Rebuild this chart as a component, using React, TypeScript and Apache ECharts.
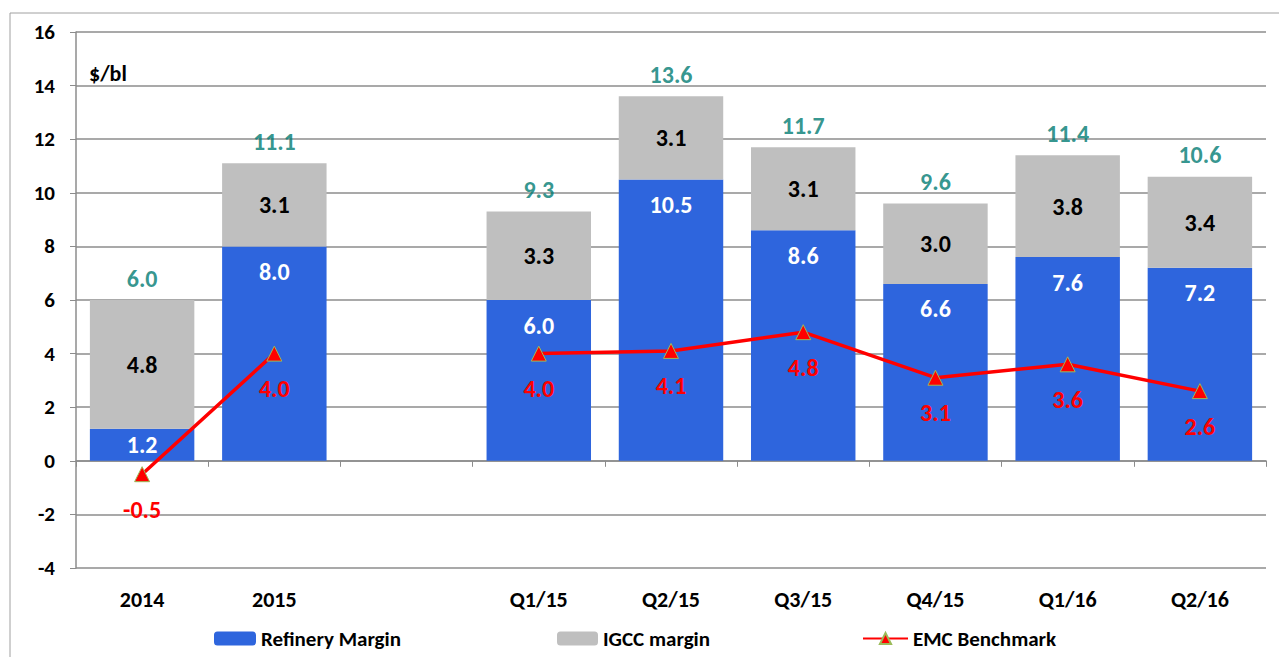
import React, { useEffect, useRef } from "react";
import * as echarts from "echarts";

const categories = ["2014", "2015", "", "Q1/15", "Q2/15", "Q3/15", "Q4/15", "Q1/16", "Q2/16"];
const refineryMargin = [1.2, 8.0, null, 6.0, 10.5, 8.6, 6.6, 7.6, 7.2];
const igccMargin = [4.8, 3.1, null, 3.3, 3.1, 3.1, 3.0, 3.8, 3.4];
const totals = [6.0, 11.1, null, 9.3, 13.6, 11.7, 9.6, 11.4, 10.6];
const emcBenchmark = [-0.5, 4.0, null, 4.0, 4.1, 4.8, 3.1, 3.6, 2.6];

const FONT = "Carlito, Lato, 'Open Sans', sans-serif";
const BLUE = "#2E65DD";
const GREY = "#BFBFBF";
const TEAL = "#007A72";
const RED = "#FF0000";

export default function App() {
  const ref = useRef<HTMLDivElement>(null);
  useEffect(() => {
    if (!ref.current) return;
    const chart = echarts.init(ref.current, null, { renderer: "svg" });
    const fmt = (p: any) => (p.value == null ? "" : Number(p.value).toFixed(1));
    const legendText = { fontFamily: FONT, fontSize: 21, fontWeight: "bold", color: "#000" };
    chart.setOption({
      animation: false,
      backgroundColor: "#ffffff",
      textStyle: { fontFamily: FONT },
      graphic: [
        {
          type: "rect",
          shape: { x: 10, y: 13, width: 1300, height: 700 },
          style: { fill: "none", stroke: "#A0A0A0", lineWidth: 1 },
          silent: true,
        },
        {
          type: "text",
          x: 89,
          y: 73,
          style: {
            text: "$/bl",
            font: `bold 22px ${FONT}`,
            fill: "#000",
            verticalAlign: "middle",
          },
        },
      ],
      grid: { left: 76, right: 13, top: 32, bottom: 89, containLabel: false },
      legend: [
        { left: 209, top: 623, itemWidth: 42, itemHeight: 14, itemGap: 0, data: ["Refinery Margin"], textStyle: legendText },
        { left: 552, top: 623, itemWidth: 41, itemHeight: 14, itemGap: 0, data: ["IGCC margin"], textStyle: legendText },
        { left: 857, top: 623, itemWidth: 45, itemHeight: 14, itemGap: 0, data: ["EMC Benchmark"], textStyle: legendText },
      ],
      xAxis: [
        {
          type: "category",
          data: categories,
          position: "bottom",
          axisLine: { show: false, onZero: false },
          axisTick: { show: false },
          axisLabel: {
            margin: 20,
            color: "#000",
            fontFamily: FONT,
            fontSize: 22,
            fontWeight: "bold",
          },
        },
        {
          type: "category",
          data: categories,
          position: "bottom",
          axisLine: { show: true, onZero: true, lineStyle: { color: "#8C8C8C", width: 1.5 } },
          axisTick: { show: true, length: 6, lineStyle: { color: "#8C8C8C" } },
          axisLabel: { show: false },
        },
      ],
      yAxis: {
        type: "value",
        min: -4,
        max: 16,
        interval: 2,
        axisLine: { show: true, lineStyle: { color: "#8C8C8C", width: 1.5 } },
        axisTick: { show: true, length: 6, lineStyle: { color: "#8C8C8C" } },
        splitLine: { show: true, lineStyle: { color: "#8C8C8C", width: 1.5 } },
        axisLabel: {
          margin: 21,
          color: "#000",
          fontFamily: FONT,
          fontSize: 21,
          fontWeight: "bold",
        },
      },
      series: [
        {
          name: "Refinery Margin",
          type: "bar",
          stack: "m",
          xAxisIndex: 0,
          barCategoryGap: "21%",
          itemStyle: { color: BLUE },
          data: refineryMargin.map((v) =>
            v != null && v < 2 ? { value: v, label: { position: "inside" } } : v
          ),
          label: {
            show: true,
            position: "insideTop",
            distance: 13,
            color: "#fff",
            fontFamily: FONT,
            fontSize: 24,
            fontWeight: "bold",
            formatter: fmt,
          },
        },
        {
          name: "IGCC margin",
          type: "bar",
          stack: "m",
          xAxisIndex: 0,
          barCategoryGap: "21%",
          itemStyle: { color: GREY },
          data: igccMargin,
          label: {
            show: true,
            position: "inside",
            color: "#000",
            fontFamily: FONT,
            fontSize: 24,
            fontWeight: "bold",
            formatter: fmt,
          },
        },
        {
          name: "Total",
          type: "scatter",
          xAxisIndex: 0,
          symbolSize: 0,
          data: totals,
          silent: true,
          label: {
            show: true,
            position: "top",
            distance: 10,
            color: TEAL,
            fontFamily: FONT,
            fontSize: 24,
            fontWeight: "bold",
            formatter: fmt,
          },
        },
        {
          name: "EMC Benchmark",
          type: "line",
          xAxisIndex: 0,
          data: emcBenchmark,
          connectNulls: false,
          symbol: "triangle",
          symbolSize: 15,
          z: 5,
          lineStyle: { color: RED, width: 3.5 },
          itemStyle: { color: RED, borderColor: "#9BBB59", borderWidth: 1 },
          label: {
            show: true,
            position: "bottom",
            distance: 15,
            color: RED,
            fontFamily: FONT,
            fontSize: 24,
            fontWeight: "bold",
            formatter: fmt,
          },
        },
      ],
    });
    return () => chart.dispose();
  }, []);
  return (
    <div
      ref={ref}
      style={{ position: "absolute", left: 0, top: 0, width: 1279, height: 657 }}
    />
  );
}
